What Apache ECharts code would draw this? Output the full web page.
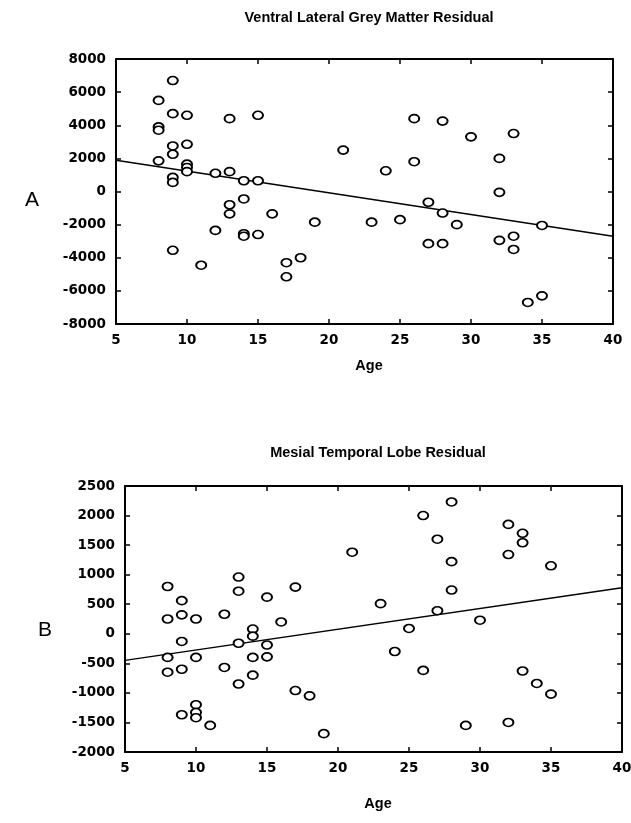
<!DOCTYPE html>
<html><head><meta charset="utf-8">
<script src="https://cdn.jsdelivr.net/npm/echarts@6/dist/echarts.min.js"></script>
<style>html,body{margin:0;padding:0;background:#fff}#c{width:631px;height:823px}</style>
</head><body><div id="c"></div>
<script>
// Panel A: Ventral Lateral Grey Matter Residual
var agesA = [9,8,9,10,13,15,8,8,9,9,10,8,10,10,10,9,9,12,13,14,15,13,13,14,16,12,14,14,15,9,11,17,17,18,19,21,23,24,25,26,26,27,27,28,28,28,29,30,32,32,32,33,33,33,34,35,35];
var valsA = [6700,5500,4700,4600,4400,4600,3900,3700,2750,2250,2850,1850,1650,1450,1200,850,550,1100,1200,650,650,-800,-1350,-450,-1350,-2350,-2550,-2700,-2600,-3550,-4450,-4300,-5150,-4000,-1850,2500,-1850,1250,-1700,4400,1800,-650,-3150,4250,-1300,-3150,-2000,3300,2000,-50,-2950,3500,-2700,-3500,-6700,-6300,-2050];
var fitAgesA = [5,40];
var fitValsA = [1880,-2700];
var yTicksA = [-8000,-6000,-4000,-2000,0,2000,4000,6000,8000];

// Panel B: Mesial Temporal Lobe Residual
var agesB = [8,8,8,8,9,9,9,9,9,10,10,10,10,10,11,12,12,13,13,13,13,14,14,14,14,15,15,15,16,17,17,18,19,21,23,24,25,26,26,27,27,28,28,28,29,30,32,32,32,33,33,33,34,35,35];
var valsB = [800,250,-400,-650,560,320,-130,-600,-1370,250,-400,-1200,-1330,-1420,-1550,330,-570,960,720,-160,-850,80,-40,-400,-700,620,-190,-390,200,790,-960,-1050,-1690,1380,510,-300,90,2000,-620,1600,390,2230,1220,740,-1550,230,1850,1340,-1500,1700,1540,-630,-840,1150,-1020];
var fitAgesB = [5,40];
var fitValsB = [-450,780];
var yTicksB = [-2000,-1500,-1000,-500,0,500,1000,1500,2000,2500];

var xTicks = [5,10,15,20,25,30,35,40];

function pairs(a,b){return a.map(function(v,i){return [v,b[i]];});}

var FONT = 'Liberation Sans, Arial, sans-serif';
var TICKFONT = 'DejaVu Sans, sans-serif';
var lbl = {color:'#000', fontFamily:TICKFONT, fontWeight:'bold', fontSize:13.5, formatter:function(v){return String(v);}};

function xAx(grid, pos, show){
  return {type:'value', gridIndex:grid, position:pos, min:xTicks[0], max:xTicks[xTicks.length-1], interval:5,
    axisLine:{show:true, onZero:false, lineStyle:{color:'#000', width:2}},
    axisTick:{show:true, inside:true, length:5, lineStyle:{color:'#000', width:1.5}},
    axisLabel:Object.assign({show:show, margin:9}, lbl),
    splitLine:{show:false}};
}
function yAx(grid, pos, show, ticks){
  return {type:'value', gridIndex:grid, position:pos, min:ticks[0], max:ticks[ticks.length-1], interval:ticks[1]-ticks[0],
    axisLine:{show:true, onZero:false, lineStyle:{color:'#000', width:2}},
    axisTick:{show:true, inside:true, length:5, lineStyle:{color:'#000', width:1.5}},
    axisLabel:Object.assign({show:show, margin:10}, lbl),
    splitLine:{show:false}};
}
function scatter(xi, yi, data){
  return {type:'scatter', xAxisIndex:xi, yAxisIndex:yi, data:data, symbol:'circle', symbolSize:[10,8],
    itemStyle:{color:'#fff', borderColor:'#000', borderWidth:1.8, opacity:1}, z:3};
}
function fit(xi, yi, data){
  return {type:'line', xAxisIndex:xi, yAxisIndex:yi, data:data, symbol:'none',
    lineStyle:{color:'#000', width:1.5}, z:2};
}
var tStyle = {fontFamily:FONT, fontWeight:'bold', fontSize:14.5, color:'#000'};

var chart = echarts.init(document.getElementById('c'), null, {renderer:'canvas'});
chart.setOption({
  animation:false,
  backgroundColor:'#fff',
  title:[
    {text:'Ventral Lateral Grey Matter Residual', left:364, top:5, textAlign:'center', textStyle:tStyle},
    {text:'Mesial Temporal Lobe Residual', left:373, top:440, textAlign:'center', textStyle:tStyle},
    {text:'A', left:20, top:185, textStyle:{fontFamily:FONT, fontWeight:'normal', fontSize:21, color:'#000'}},
    {text:'B', left:33, top:615, textStyle:{fontFamily:FONT, fontWeight:'normal', fontSize:21, color:'#000'}},
    {text:'Age', left:364, top:353, textAlign:'center', textStyle:tStyle},
    {text:'Age', left:373, top:791, textAlign:'center', textStyle:tStyle}
  ],
  grid:[
    {left:116, top:59, width:497, height:265, containLabel:false, outerBoundsMode:'none'},
    {left:125, top:486, width:497, height:266, containLabel:false, outerBoundsMode:'none'}
  ],
  xAxis:[xAx(0,'bottom',true), xAx(0,'top',false), xAx(1,'bottom',true), xAx(1,'top',false)],
  yAxis:[yAx(0,'left',true,yTicksA), yAx(0,'right',false,yTicksA), yAx(1,'left',true,yTicksB), yAx(1,'right',false,yTicksB)],
  series:[
    fit(0,0,pairs(fitAgesA,fitValsA)),
    scatter(0,0,pairs(agesA,valsA)),
    fit(2,2,pairs(fitAgesB,fitValsB)),
    scatter(2,2,pairs(agesB,valsB))
  ]
});
</script></body></html>
